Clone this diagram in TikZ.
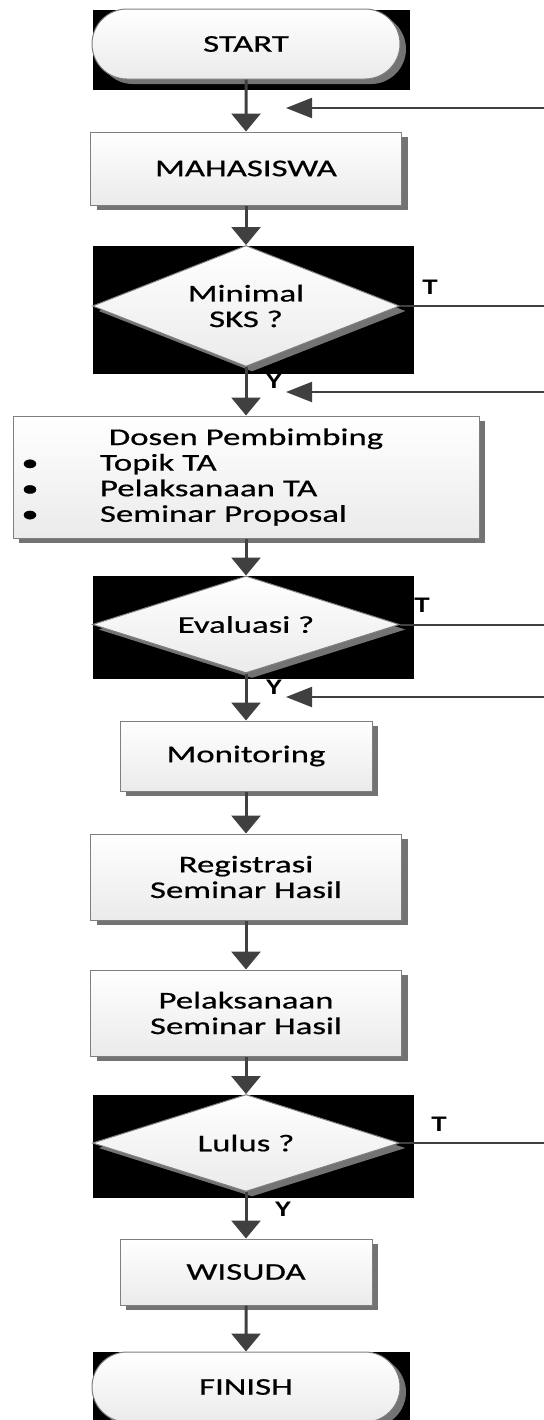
\documentclass[tikz,border=0pt]{standalone}
\usepackage{fontspec}
\setmainfont{Carlito}[FakeStretch=1.45, FakeBold=0.6]
\newfontfamily\yesnofont{Liberation Sans Bold}[FakeStretch=1.2]
\usetikzlibrary{arrows.meta,shapes.geometric,shapes.misc,shadows}

\definecolor{arrowgray}{HTML}{404040}
\definecolor{edgegray}{HTML}{7F7F7F}

\tikzset{
	base/.style={draw=edgegray, line width=0.5pt, top color=white, bottom color=black!8,
		drop shadow={shadow xshift=3pt, shadow yshift=-2.5pt, fill=black!55, opacity=1},
		font=\fontsize{12}{12.8}\selectfont, align=center, inner sep=0pt},
	terminal/.style={base, rounded rectangle, minimum width=154pt, minimum height=35pt},
	process/.style={base, rectangle, minimum width=155.5pt, minimum height=43pt},
	decision/.style={base, diamond, aspect=2.5, minimum width=153.5pt, minimum height=48.5pt},
	flow/.style={draw=arrowgray, line width=1.5pt, -{Triangle[width=14.5pt,length=9pt]}},
	back/.style={draw=arrowgray, line width=1pt, -{Triangle[width=10pt,length=13pt]}},
	branch/.style={draw=arrowgray, line width=1pt},
	yn/.style={font=\yesnofont\fontsize{10.5}{12}\selectfont, inner sep=0pt},
	blackbg/.style={fill=black},
}

\begin{document}
\begin{tikzpicture}[x=0.5pt,y=-0.5pt]
	\useasboundingbox (0,0) rectangle (544,1420);
	% black backgrounds
	\fill[blackbg] (93,10) rectangle (410,90);
	\fill[blackbg] (93,246) rectangle (414,374);
	\fill[blackbg] (93,576) rectangle (414,679);
	\fill[blackbg] (93,1095) rectangle (414,1198);
	\fill[blackbg] (93,1352) rectangle (410,1420);

	\node[terminal] (start) 	at (246,44) 	{START};
	\node[process, minimum height=36.5pt] (mhs) 	at (246,168.5) 	{MAHASISWA};
	\node[decision, minimum height=60.5pt] (sks) 	at (246,306) 	{Minimal\\SKS ?};
	\node[process, minimum width=233pt, minimum height=61pt, text width=230pt, align=left] (dosen) at (246,477)
		{\makebox[230pt]{Dosen Pembimbing}\\
		\makebox[14pt]{\textbullet}\hspace{28pt}Topik TA\\
		\makebox[14pt]{\textbullet}\hspace{28pt}Pelaksanaan TA\\
		\makebox[14pt]{\textbullet}\hspace{28pt}Seminar Proposal};
	\node[decision] (eval) 	at (246,624.5) 	{Evaluasi ?};
	\node[process, minimum width=126pt, minimum height=35pt] (mon) at (246,756) {Monitoring};
	\node[process] (reg) 	at (246,877) 	{Registrasi\\Seminar Hasil};
	\node[process] (pel) 	at (246,1013) 	{Pelaksanaan\\Seminar Hasil};
	\node[decision] (lulus) 	at (246,1143) 	{Lulus ?};
	\node[process, minimum width=126pt, minimum height=33pt] (wis) at (246,1272) {WISUDA};
	\node[terminal] (finish) 	at (246,1387) 	{FINISH};

	% labels
	\node[yn] (t1) at (430,287) 	{T};
	\node[yn] (y1) at (274,381) 	{Y};
	\node[yn] (t2) at (422,605) 	{T};
	\node[yn] (y2) at (274,687) 	{Y};
	\node[yn] (t3) at (439,1124) 	{T};
	\node[yn] (y3) at (283,1209) 	{Y};

	% loose ends on the right
	\coordinate (r0) at (544,108);
	\coordinate (e0) at (286,108);
	\coordinate (r1) at (544,306);
	\coordinate (r2) at (544,392);
	\coordinate (e2) at (286,392);
	\coordinate (r3) at (544,624.5);
	\coordinate (r4) at (544,697);
	\coordinate (e4) at (286,697);
	\coordinate (r5) at (544,1143);

	\draw[flow] (start) -- (mhs);
	\draw[flow] (mhs) -- (sks);
	\draw[flow] (sks) -- (dosen);
	\draw[flow] (dosen) -- (eval);
	\draw[flow] (eval) -- (mon);
	\draw[flow] (mon) -- (reg);
	\draw[flow] (reg) -- (pel);
	\draw[flow] (pel) -- (lulus);
	\draw[flow] (lulus) -- (wis);
	\draw[flow] (wis) -- (finish);

	\draw[back] (r0) -- (e0);
	\draw[back] (r2) -- (e2);
	\draw[back] (r4) -- (e4);
	\draw[branch] (sks.east) -- (r1);
	\draw[branch] (eval.east) -- (r3);
	\draw[branch] (lulus.east) -- (r5);
\end{tikzpicture}
\end{document}
